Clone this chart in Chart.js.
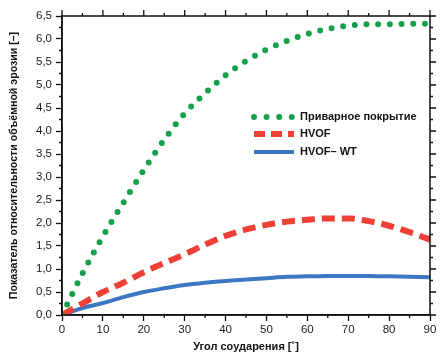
<!DOCTYPE html>
<html>
<head>
<meta charset="utf-8">
<script src="https://cdn.jsdelivr.net/npm/chart.js@4"></script>
<style>
  html, body { margin: 0; padding: 0; background: #fff; }
  #wrap { width: 442px; height: 354px; position: relative; }
</style>
</head>
<body>
<div id="wrap"><canvas id="chartErosion"></canvas></div>
<script>
// --- Данные ---
const angles = [0, 5, 10, 15, 20, 25, 30, 35, 40, 45, 50, 55, 60, 65, 70, 75, 80, 85, 90];
const welded = [0, 0.90, 1.71, 2.44, 3.15, 3.81, 4.38, 4.82, 5.21, 5.52, 5.77, 5.96, 6.11, 6.22, 6.29, 6.32, 6.32, 6.33, 6.33];
const hvof   = [0, 0.25, 0.50, 0.70, 0.93, 1.13, 1.32, 1.53, 1.72, 1.86, 1.96, 2.03, 2.07, 2.10, 2.10, 2.04, 1.94, 1.80, 1.64];
const hvofWt = [0, 0.15, 0.26, 0.39, 0.50, 0.58, 0.65, 0.70, 0.74, 0.77, 0.80, 0.83, 0.84, 0.85, 0.85, 0.85, 0.84, 0.83, 0.82];
const seriesLabels = ['Приварное покрытие', 'HVOF', 'HVOF– WT'];

const FONT = "'Liberation Sans', Arial, sans-serif";

function toPoints(ys) {
    return angles.map((a, i) => ({ x: a, y: ys[i] }));
}

// рамка, мелкие деления и легенда внутри поля графика
const framePlugin = {
    id: 'frame',
    afterDraw(chart) {
        const ctx = chart.ctx;
        const a = chart.chartArea;
        const xs = chart.scales.x, ys = chart.scales.y;
        ctx.save();
        ctx.strokeStyle = '#111';
        ctx.lineWidth = 1.5;
        ctx.strokeRect(a.left, a.top, a.right - a.left, a.bottom - a.top);
        ctx.lineWidth = 1.3;
        ctx.beginPath();
        for (let v = 0; v <= 90; v += 5) {
            const px = xs.getPixelForValue(v);
            const len = v % 10 === 0 ? 6 : 3;
            ctx.moveTo(px, a.top); ctx.lineTo(px, a.top - len);
            if (v % 10 !== 0) { ctx.moveTo(px, a.bottom); ctx.lineTo(px, a.bottom + 3); }
        }
        for (let v = 0; v <= 6.5001; v += 0.25) {
            const py = ys.getPixelForValue(v);
            const major = Math.abs(v * 2 - Math.round(v * 2)) < 1e-6;
            const len = major ? 6 : 3;
            ctx.moveTo(a.right, py); ctx.lineTo(a.right + len, py);
            if (!major) { ctx.moveTo(a.left, py); ctx.lineTo(a.left - 3, py); }
        }
        ctx.stroke();

        // легенда
        const lx = 254, lw = 40, rows = [117, 134, 152];
        chart.data.datasets.forEach((ds, i) => {
            const y = rows[i];
            ctx.beginPath();
            ctx.strokeStyle = ds.borderColor;
            ctx.lineWidth = ds.borderWidth;
            ctx.lineCap = ds.borderCapStyle || 'butt';
            ctx.setLineDash(ds.legendDash || []);
            ctx.moveTo(lx, y); ctx.lineTo(lx + lw, y);
            ctx.stroke();
            ctx.setLineDash([]);
            ctx.fillStyle = '#111';
            ctx.font = 'bold 11px ' + FONT;
            ctx.textBaseline = 'middle';
            ctx.textAlign = 'left';
            ctx.fillText(ds.label, 300, y);
        });
        ctx.restore();
    }
};

function createErosionChart(canvasId) {
    const ctx = document.getElementById(canvasId).getContext('2d');
    new Chart(ctx, {
        type: 'line',
        data: {
            datasets: [
                {
                    label: seriesLabels[0], data: toPoints(welded),
                    borderColor: '#17a04c', borderWidth: 6, borderCapStyle: 'round',
                    borderDash: [0, 11.7], legendDash: [0, 12.6],
                    pointRadius: 0, cubicInterpolationMode: 'monotone'
                },
                {
                    label: seriesLabels[1], data: toPoints(hvof),
                    borderColor: '#ee4036', borderWidth: 6, borderCapStyle: 'butt',
                    borderDash: [13, 7], legendDash: [11, 6],
                    pointRadius: 0, cubicInterpolationMode: 'monotone'
                },
                {
                    label: seriesLabels[2], data: toPoints(hvofWt),
                    borderColor: '#3b77c2', borderWidth: 4, borderCapStyle: 'butt',
                    pointRadius: 0, cubicInterpolationMode: 'monotone'
                }
            ]
        },
        options: {
            responsive: true, maintainAspectRatio: false, animation: false,
            layout: { padding: { top: 16, right: 12, left: 0, bottom: 0 } },
            plugins: { legend: { display: false }, tooltip: { enabled: false } },
            scales: {
                x: {
                    type: 'linear', min: 0, max: 90,
                    afterFit: s => { s.height = 39; },
                    border: { display: true, color: '#111', width: 1.5 },
                    grid: { drawOnChartArea: false, drawTicks: true, tickLength: 6, color: '#111', tickWidth: 1.3 },
                    ticks: { stepSize: 10, color: '#1a1a1a', padding: 2, font: { family: FONT, size: 11.5 }, maxRotation: 0 },
                    title: { display: true, text: 'Угол соударения [˚]', color: '#111', padding: { top: 0, bottom: 0 }, font: { family: FONT, size: 11, weight: 'bold' } }
                },
                y: {
                    min: 0, max: 6.5,
                    afterFit: s => { s.width = 62; },
                    border: { display: true, color: '#111', width: 1.5 },
                    grid: { drawOnChartArea: false, drawTicks: true, tickLength: 6, color: '#111', tickWidth: 1.3 },
                    ticks: {
                        stepSize: 0.5, color: '#1a1a1a', padding: 4, font: { family: FONT, size: 11.5 },
                        callback: v => v.toFixed(1).replace('.', ',')
                    },
                    title: { display: true, text: 'Показатель относительности объёмной эрозии [–]', color: '#111', padding: { top: 8, bottom: 0 }, font: { family: FONT, size: 10.6, weight: 'bold' } }
                }
            }
        },
        plugins: [framePlugin]
    });
}

document.addEventListener('DOMContentLoaded', () => {
    createErosionChart('chartErosion');
});
</script>
</body>
</html>
